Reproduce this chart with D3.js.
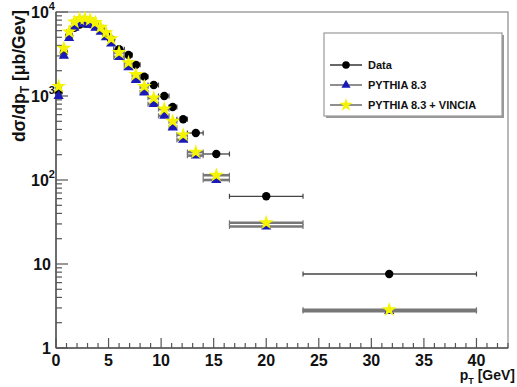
<!DOCTYPE html>
<html><head><meta charset="utf-8">
<script src="https://cdn.jsdelivr.net/npm/d3@7"></script>
<style>body{margin:0;background:#fff}svg{display:block}text{font-family:"Liberation Sans",Arial,sans-serif;font-weight:bold}</style>
</head><body><svg id="c" width="517" height="387"></svg>
<script>
const binLow  = [0,0.5,1,1.5,2,2.5,3,3.5,4,4.5,5,5.5,6.5,7.25,8,8.75,9.75,10.75,11.5,12.5,14,16.5,23.5];
const binHigh = [0.5,1,1.5,2,2.5,3,3.5,4,4.5,5,5.5,6.5,7.25,8,8.75,9.75,10.75,11.5,12.5,14,16.5,23.5,40];
const xMean   = [0.25,0.75,1.25,1.75,2.25,2.75,3.25,3.75,4.25,4.75,5.25,6.0,6.9,7.6,8.4,9.3,10.3,11.1,12.1,13.3,15.25,20,31.7];
const dataVals    = [1100,3300,5200,6500,7100,7300,7200,6800,6200,5500,4700,3600,3080,2350,1700,1350,1000,740,528,363,204,64,7.6];
const pythiaVals  = [1000,3000,4900,6500,7200,7300,7000,6500,5800,5000,4200,2900,2200,1550,1100,800,580,420,300,195,100,28,2.75];
const vinciaVals  = [1300,3700,5800,7600,8300,8400,8100,7500,6600,5700,4800,3300,2500,1800,1300,950,700,500,345,215,114,31,2.85];
const xTicks = [0,5,10,15,20,25,30,35,40];
const yTicks = [{v:1e4,b:"10",e:"4"},{v:1e3,b:"10",e:"3"},{v:1e2,b:"10",e:"2"},{v:10,b:"10",e:""},{v:1,b:"1",e:""}];
const legendLabels = ["Data","PYTHIA 8.3","PYTHIA 8.3 + VINCIA"];

const svg = d3.select("#c");
const L=56,R=508,T=12,B=348;
const x = d3.scaleLinear().domain([0,43]).range([L,R]);
const y = d3.scaleLog().domain([1,1e4]).range([B,T]);

svg.append("rect").attr("x",L).attr("y",T).attr("width",R-L).attr("height",B-T)
  .attr("fill","none").attr("stroke","#8a8a8a").attr("stroke-width",1.2);

const xg = svg.append("g");
d3.range(0,44,1).forEach(v=>{
  const major = v%5===0;
  xg.append("line").attr("x1",x(v)).attr("x2",x(v)).attr("y1",B).attr("y2",B-(major?10:5))
    .attr("stroke","#555").attr("stroke-width",1.2);
});
xTicks.forEach(v=>{
  xg.append("text").attr("x",x(v)).attr("y",366).attr("text-anchor","middle")
    .attr("font-size",16).attr("fill","#111").text(v);
});
const yg = svg.append("g");
for(let d=0; d<4; d++){
  for(let m=1;m<=9;m++){
    const v = m*Math.pow(10,d);
    const major = m===1;
    yg.append("line").attr("x1",L).attr("x2",L+(major?12:6)).attr("y1",y(v)).attr("y2",y(v))
      .attr("stroke","#555").attr("stroke-width",1.2);
  }
}
yg.append("line").attr("x1",L).attr("x2",L+12).attr("y1",y(1e4)).attr("y2",y(1e4)).attr("stroke","#555").attr("stroke-width",1.2);
yTicks.forEach(t=>{
  const tx = yg.append("text").attr("y",y(t.v)+6).attr("font-size",16).attr("fill","#111");
  if(t.e){
    tx.attr("x",31).attr("text-anchor","start");
    tx.append("tspan").text(t.b);
    tx.append("tspan").attr("font-size",11).attr("dy",-8).text(t.e);
  } else {
    tx.attr("x",51).attr("text-anchor","end").text(t.b);
  }
});
svg.append("line").attr("x1",L).attr("x2",R).attr("y1",B).attr("y2",B).attr("stroke","#555").attr("stroke-width",1.5);
svg.append("line").attr("x1",L).attr("x2",L).attr("y1",T).attr("y2",B).attr("stroke","#555").attr("stroke-width",1.5);

const xt = svg.append("text").attr("x",515).attr("y",380).attr("text-anchor","end").attr("font-size",14).attr("fill","#111");
xt.append("tspan").text("p");
xt.append("tspan").attr("font-size",9).attr("dy",4).text("T");
xt.append("tspan").attr("dy",-4).text(" [GeV]");
const yt = svg.append("text").attr("transform","translate(25,10) rotate(-90)").attr("text-anchor","end").attr("font-size",17.5).attr("fill","#111");
yt.append("tspan").text("dσ/dp");
yt.append("tspan").attr("font-size",12).attr("dy",4).text("T");
yt.append("tspan").attr("dy",-4).text(" [μb/Gev]");

const series = [
  {vals:dataVals, color:"#000", sym:d3.symbolCircle, size:55, barW:1.3, barC:"#444"},
  {vals:pythiaVals, color:"#1a1ab8", sym:d3.symbolTriangle, size:45, barW:2.6, barC:"#777"},
  {vals:vinciaVals, color:"#f4f400", sym:d3.symbolStar, size:70, barW:2.6, barC:"#777"}
];
series.forEach((s,si)=>{
  const g = svg.append("g");
  s.vals.forEach((v,i)=>{
    const yy = y(v);
    g.append("line").attr("x1",x(binLow[i])).attr("x2",x(binHigh[i])).attr("y1",yy).attr("y2",yy)
      .attr("stroke",s.barC).attr("stroke-width",s.barW);
    [binLow[i],binHigh[i]].forEach(e=>g.append("line").attr("x1",x(e)).attr("x2",x(e)).attr("y1",yy-2.5).attr("y2",yy+2.5).attr("stroke",s.barC).attr("stroke-width",1.2));
  });
  g.selectAll("path").data(s.vals).join("path")
    .attr("transform",(v,i)=>`translate(${x(xMean[i])},${y(v)})`)
    .attr("d",d3.symbol().type(s.sym).size(s.size)).attr("fill",s.color);
});

const lg = svg.append("g");
lg.append("rect").attr("x",326).attr("y",35).attr("width",178).attr("height",83).attr("fill","#999");
lg.append("rect").attr("x",324).attr("y",33).attr("width",178).attr("height",83).attr("fill","#fff").attr("stroke","#999").attr("stroke-width",1.2);
const ly = [65,85,105];
series.forEach((s,i)=>{
  lg.append("line").attr("x1",330).attr("x2",362).attr("y1",ly[i]).attr("y2",ly[i]).attr("stroke",i===0?"#000":"#444").attr("stroke-width",1.2);
  lg.append("path").attr("transform",`translate(346,${ly[i]})`).attr("d",d3.symbol().type(s.sym).size(s.size*0.8)).attr("fill",s.color);
  lg.append("text").attr("x",368).attr("y",ly[i]+4).attr("font-size",11).attr("fill","#111").text(legendLabels[i]);
});
</script></body></html>
